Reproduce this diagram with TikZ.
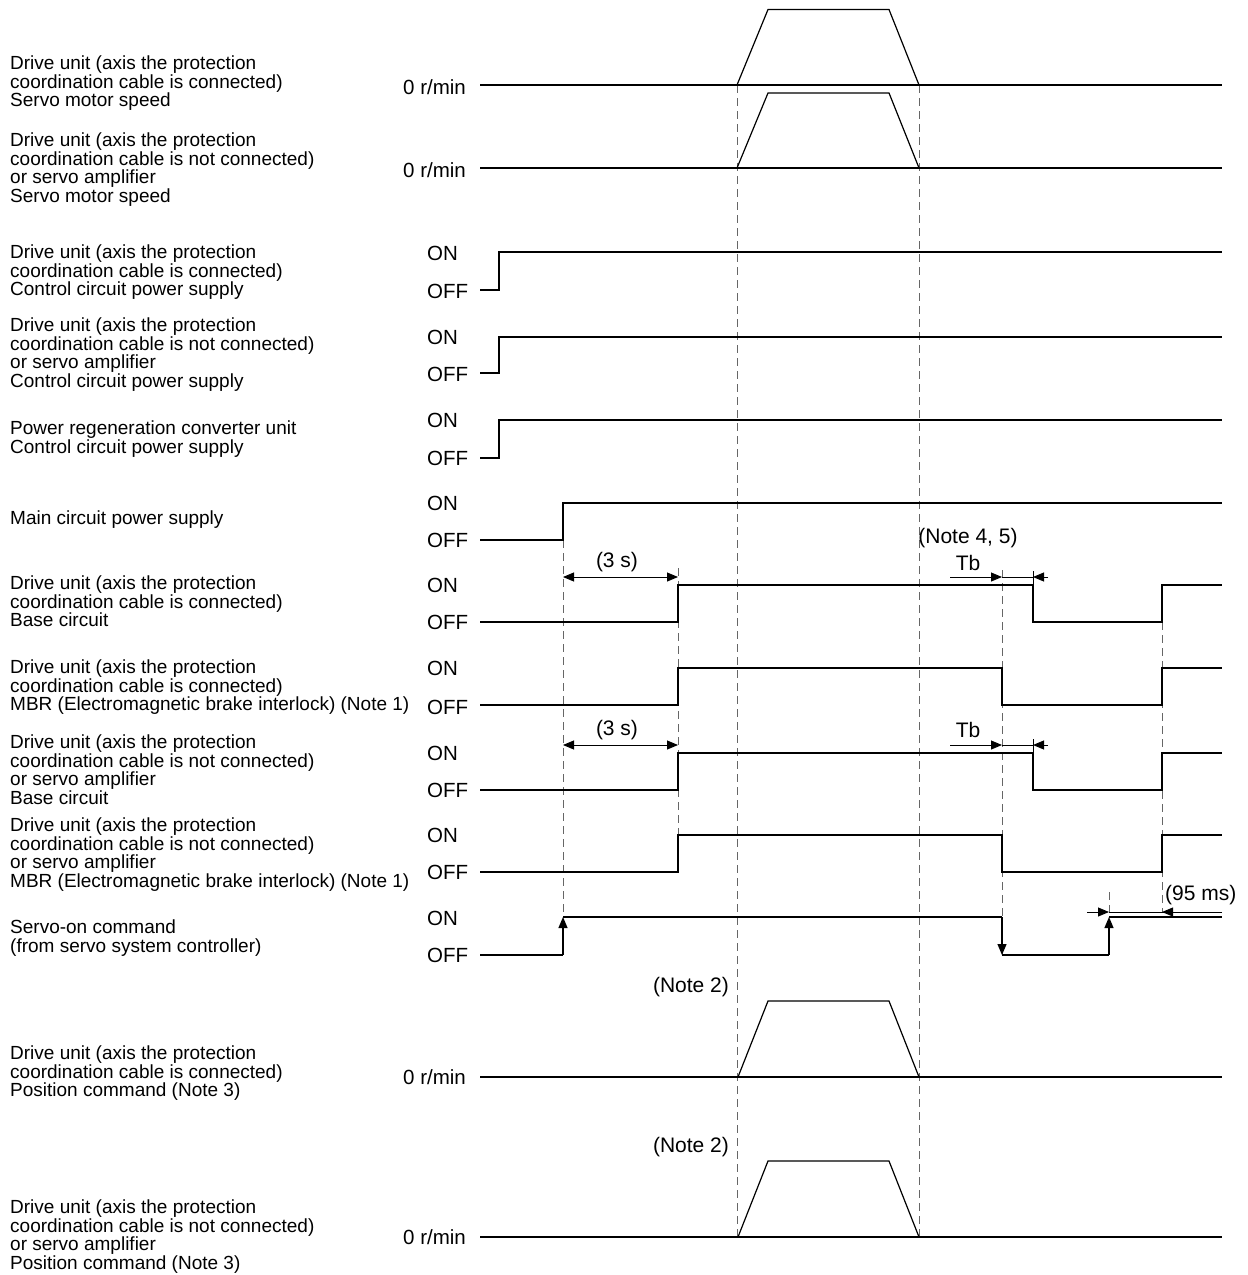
\documentclass[tikz,border=0pt]{standalone}
\usepackage{fontspec}
\setmainfont{Liberation Sans}
\usetikzlibrary{arrows.meta}
\begin{document}
\begin{tikzpicture}[x=1pt,y=-1pt,
  sig/.style={line width=1.2pt,line join=miter},
  dsh/.style={line width=1pt,draw=black!60,dash pattern=on 8pt off 5pt},
  lbl/.style={anchor=north west,align=left,inner sep=0pt,font=\fontsize{19}{18.5}\selectfont},
  lev/.style={anchor=base west,inner sep=0pt,font=\fontsize{20.5}{22}\selectfont},
  ann/.style={inner sep=0pt,font=\fontsize{21}{23}\selectfont},
  tip/.style={-{Triangle[length=11pt,width=9pt]}},
  dim/.style={line width=0.9pt}]
\useasboundingbox (0,0) rectangle (1248,1275);

% ---- dashed guide lines
\draw[dsh] (737,85) -- (737,1237);
\draw[dsh] (919,85) -- (919,1237);
\draw[dsh] (563,540) -- (563,917);
\draw[dsh] (678,568) -- (678,872);
\draw[dsh] (1002,570) -- (1002,955);
\draw[dsh] (1162,622) -- (1162,912);
\draw[dsh] (1109,892) -- (1109,912);

% ---- left labels
\node[lbl] (l1) at (10,56) {Drive unit (axis the protection\\coordination cable is connected)\\Servo motor speed};
\node[lbl] (l2) at (10,133) {Drive unit (axis the protection\\coordination cable is not connected)\\or servo amplifier\\Servo motor speed};
\node[lbl] (l3) at (10,245) {Drive unit (axis the protection\\coordination cable is connected)\\Control circuit power supply};
\node[lbl] (l4) at (10,318) {Drive unit (axis the protection\\coordination cable is not connected)\\or servo amplifier\\Control circuit power supply};
\node[lbl] (l5) at (10,421) {Power regeneration converter unit\\Control circuit power supply};
\node[lbl] (l6) at (10,511) {Main circuit power supply};
\node[lbl] (l7) at (10,576) {Drive unit (axis the protection\\coordination cable is connected)\\Base circuit};
\node[lbl] (l8) at (10,660) {Drive unit (axis the protection\\coordination cable is connected)\\MBR (Electromagnetic brake interlock) (Note 1)};
\node[lbl] (l9) at (10,735) {Drive unit (axis the protection\\coordination cable is not connected)\\or servo amplifier\\Base circuit};
\node[lbl] (l10) at (10,818) {Drive unit (axis the protection\\coordination cable is not connected)\\or servo amplifier\\MBR (Electromagnetic brake interlock) (Note 1)};
\node[lbl] (l11) at (10,920) {Servo-on command\\(from servo system controller)};
\node[lbl] (l12) at (10,1046) {Drive unit (axis the protection\\coordination cable is connected)\\Position command (Note 3)};
\node[lbl] (l13) at (10,1200) {Drive unit (axis the protection\\coordination cable is not connected)\\or servo amplifier\\Position command (Note 3)};

% ---- level labels
\node[lev] (z1) at (403,94) {0 r/min};
\node[lev] (z2) at (403,177) {0 r/min};
\node[lev] (on3) at (427,260) {ON};   \node[lev] (off3) at (427,298) {OFF};
\node[lev] (on4) at (427,344) {ON};   \node[lev] (off4) at (427,381) {OFF};
\node[lev] (on5) at (427,427) {ON};   \node[lev] (off5) at (427,465) {OFF};
\node[lev] (on6) at (427,510) {ON};   \node[lev] (off6) at (427,547) {OFF};
\node[lev] (on7) at (427,592) {ON};   \node[lev] (off7) at (427,629) {OFF};
\node[lev] (on8) at (427,675) {ON};   \node[lev] (off8) at (427,714) {OFF};
\node[lev] (on9) at (427,760) {ON};   \node[lev] (off9) at (427,797) {OFF};
\node[lev] (on10) at (427,842) {ON};  \node[lev] (off10) at (427,879) {OFF};
\node[lev] (on11) at (427,925) {ON};  \node[lev] (off11) at (427,962) {OFF};
\node[lev] (z12) at (403,1084) {0 r/min};
\node[lev] (z13) at (403,1244) {0 r/min};

% ---- speed waveforms
\draw[sig] (480,85) -- (1222,85);
\draw[sig] (737,85) -- (768,9.5) -- (889,9.5) -- (919,85);
\draw[sig] (480,168) -- (1222,168);
\draw[sig] (737,168) -- (768,93) -- (889,93) -- (919,168);

% ---- control circuit power
\draw[sig] (480,290) -- (499,290) -- (499,252) -- (1222,252);
\draw[sig] (480,373) -- (499,373) -- (499,337) -- (1222,337);
\draw[sig] (480,458) -- (499,458) -- (499,420) -- (1222,420);

% ---- main circuit
\draw[sig] (480,540) -- (563,540) -- (563,503) -- (1222,503);

% ---- base circuit / MBR
\draw[sig] (480,622) -- (678,622) -- (678,585) -- (1033,585) -- (1033,622) -- (1162,622) -- (1162,585) -- (1222,585);
\draw[sig] (480,705) -- (678,705) -- (678,668) -- (1002,668) -- (1002,705) -- (1162,705) -- (1162,668) -- (1222,668);
\draw[sig] (480,790) -- (678,790) -- (678,753) -- (1033,753) -- (1033,790) -- (1162,790) -- (1162,753) -- (1222,753);
\draw[sig] (480,872) -- (678,872) -- (678,835) -- (1002,835) -- (1002,872) -- (1162,872) -- (1162,835) -- (1222,835);

% ---- servo-on command
\draw[sig] (480,955) -- (563,955);
\draw[sig,tip] (563,955) -- (563,917);
\draw[sig] (563,917) -- (1002,917);
\draw[sig,tip] (1002,917) -- (1002,955);
\draw[sig] (1002,955) -- (1109,955);
\draw[sig,tip] (1109,955) -- (1109,917);
\draw[sig] (1109,917) -- (1222,917);

% ---- position commands
\draw[sig] (480,1077) -- (1222,1077);
\draw[sig] (738,1077) -- (768,1001) -- (889,1001) -- (919,1077);
\draw[sig] (480,1237) -- (1222,1237);
\draw[sig] (738,1237) -- (768,1161) -- (889,1161) -- (919,1237);

% ---- dimensions
\coordinate (a1) at (563,577); \coordinate (b1) at (678,577);
\draw[dim,{Triangle[length=11pt,width=9pt]}-{Triangle[length=11pt,width=9pt]}] (a1) -- (b1);
\node[ann] (t1) at (617,562) {(3 s)};
\coordinate (a2) at (563,745); \coordinate (b2) at (678,745);
\draw[dim,{Triangle[length=11pt,width=9pt]}-{Triangle[length=11pt,width=9pt]}] (a2) -- (b2);
\node[ann] (t2) at (617,730) {(3 s)};

\node[ann] (n45) at (968,538) {(Note 4, 5)};
\coordinate (tb1s) at (950,577); \coordinate (tb1a) at (1002,577);
\coordinate (tb1b) at (1033,577); \coordinate (tb1e) at (1048,577);
\draw[dim,tip] (tb1s) -- (tb1a);
\draw[dim] (tb1a) -- (tb1b);
\draw[dim,tip] (tb1e) -- (tb1b);
\draw[dim] (1033,571) -- (1033,585);
\node[ann] (tbt1) at (968,563) {Tb};

\coordinate (tb2s) at (950,745); \coordinate (tb2a) at (1002,745);
\coordinate (tb2b) at (1033,745); \coordinate (tb2e) at (1048,745);
\draw[dim,tip] (tb2s) -- (tb2a);
\draw[dim] (tb2a) -- (tb2b);
\draw[dim,tip] (tb2e) -- (tb2b);
\draw[dim] (1033,739) -- (1033,753);
\node[ann] (tbt2) at (968,730) {Tb};

\coordinate (m1) at (1087,912); \coordinate (m2) at (1109,912);
\coordinate (m3) at (1162,912); \coordinate (m4) at (1222,912);
\draw[dim,tip] (m1) -- (m2);
\draw[dim] (m2) -- (m4);
\draw[dim,tip] (m4) -- (m3);
\node[ann,anchor=west] (n95) at (1165,895) {(95 ms)};

\node[ann] (n2a) at (691,987) {(Note 2)};
\node[ann] (n2b) at (691,1147) {(Note 2)};
\end{tikzpicture}
\end{document}
